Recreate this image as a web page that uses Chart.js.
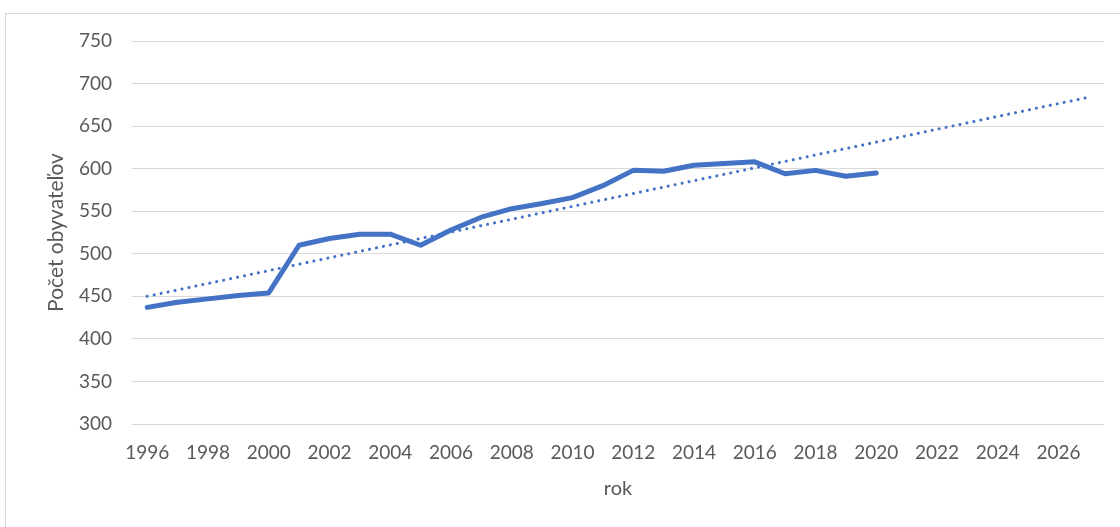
<!DOCTYPE html>
<html>
<head>
<meta charset="utf-8">
<script src="https://cdn.jsdelivr.net/npm/chart.js"></script>
<style>
  body { margin: 0; background: #fff; }
  #frame { position: absolute; left: 5px; top: 13px; width: 1120px; height: 520px;
           border-left: 1px solid #d9d9d9; border-top: 1px solid #d9d9d9; }
  #mychart { position: absolute; left: 0; top: 0; }
</style>
</head>
<body>
<div id="frame"></div>
<canvas id="mychart" width="1120" height="527"></canvas>
<script>
var years = []
for (var y = 1996; y <= 2027; y++) years.push(String(y))

// pocet obyvatelov 1996 - 2020
var population = [437, 443, 447, 451, 454, 510, 518, 523, 523, 510,
                  528, 543, 553, 559, 566, 580, 598, 597, 604, 606,
                  608, 594, 598, 591, 595]

// linearny trend: len zaciatok a koniec, medzi nimi sa spoji
var trend = [450]
for (var i = 1; i < 31; i++) trend.push(null)
trend.push(684)

var yTicks = [300, 350, 400, 450, 500, 550, 600, 650, 700, 750]

var font = "Lato, 'Open Sans', sans-serif"

var ctx = document.getElementById("mychart").getContext('2d')
var chart = new Chart(ctx, {
  type: 'line',
  data: {
    labels: years,
    datasets: [
      { label: "Počet obyvateľov",
        data: population,
        borderColor: "#4472C4",
        borderWidth: 5,
        pointRadius: 0,
        tension: 0,
        borderJoinStyle: 'round',
        borderCapStyle: 'round'
      },
      { label: "Lineárny trend",
        data: trend,
        borderColor: "#4472C4",
        borderWidth: 3,
        borderDash: [0.1, 7],
        borderCapStyle: 'round',
        pointRadius: 0,
        spanGaps: true
      }
    ]
  },
  options: {
    responsive: false,
    animation: false,
    layout: { padding: { left: 44, top: 41, right: 16, bottom: 26 } },
    plugins: { legend: { display: false }, tooltip: { enabled: false } },
    scales: {
      x: {
        offset: true,
        grid: { display: false },
        border: { display: false },
        ticks: {
          autoSkip: false, maxRotation: 0, padding: 9,
          color: "#595959", font: { family: font, size: 19 },
          callback: function(v, i) { return i % 2 == 0 ? years[i] : '' }
        },
        title: { display: true, text: "rok", color: "#595959",
                 font: { family: font, size: 20 }, padding: 0 },
        afterFit: function(s) { s.height = 77 }
      },
      y: {
        min: 300, max: 750,
        afterBuildTicks: function(s) { s.ticks = yTicks.map(function(v) { return { value: v } }) },
        grid: { color: "#d9d9d9", lineWidth: 1, drawTicks: false },
        border: { display: false },
        ticks: { padding: 20, color: "#595959", font: { family: font, size: 19 } },
        title: { display: true, text: "Počet obyvateľov", color: "#595959",
                 font: { family: font, size: 21 }, padding: 0 },
        afterFit: function(s) { s.width = 88 }
      }
    }
  }
})
</script>
</body>
</html>
